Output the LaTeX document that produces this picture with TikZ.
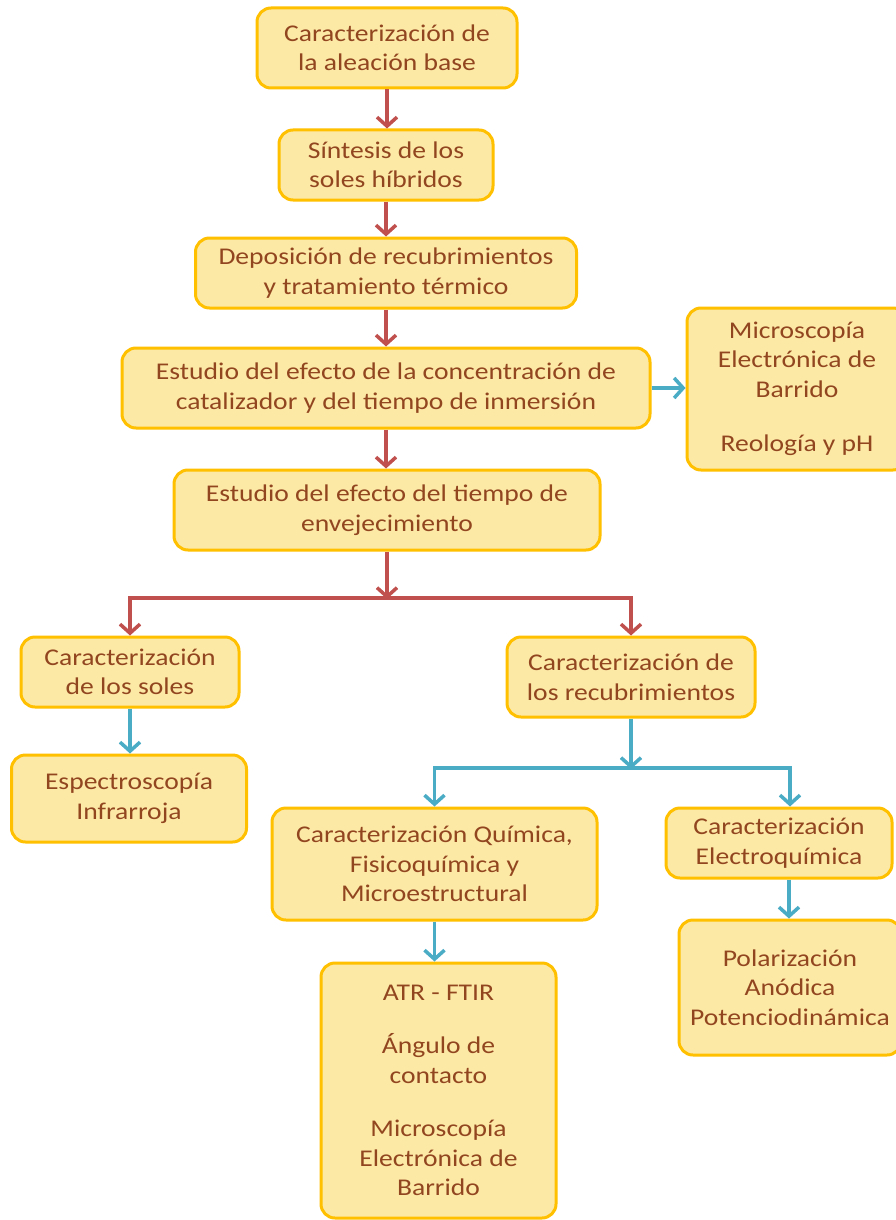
\documentclass[tikz,border=0pt]{standalone}
\usepackage{fontspec}
\setmainfont{Carlito}[FakeStretch=1.15]
\usetikzlibrary{arrows.meta}
\definecolor{boxfill}{RGB}{253,233,166}
\definecolor{boxline}{RGB}{255,192,0}
\definecolor{txt}{RGB}{146,70,32}
\definecolor{redc}{RGB}{192,80,77}
\definecolor{bluec}{RGB}{75,172,198}
\tikzset{
  box/.style={draw=boxline, fill=boxfill, line width=3pt, rounded corners=14pt,
    align=center, text=txt, inner sep=0pt,
    font=\fontsize{24}{29.5}\selectfont},
  redarr/.style={draw=redc, line width=3.5pt, -{Straight Barb[length=9pt,width=20pt]}},
  bluearr/.style={draw=bluec, line width=3.5pt, -{Straight Barb[length=9pt,width=20pt]}}
}
\begin{document}
\begin{tikzpicture}[x=1pt,y=-1pt]
\useasboundingbox (0,0) rectangle (896,1220);
\clip (0,0) rectangle (896,1220);
\fill[white] (0,0) rectangle (896,1220);

\node[box, minimum width=260, minimum height=80] (n1) at (387,48) {Caracterización de\\la aleación base};
\node[box, minimum width=214, minimum height=70] (n2) at (386,165) {Síntesis de los\\soles híbridos};
\node[box, minimum width=381, minimum height=70] (n3) at (386,273) {Deposición de recubrimientos\\y tratamiento térmico};
\node[box, minimum width=528, minimum height=80] (n4) at (386,388) {Estudio del efecto de la concentración de\\catalizador y del tiempo de inmersión};
\node[box, minimum width=220, minimum height=162] (n5) at (797,389) {Microscopía\\Electrónica de\\Barrido\\[25pt]Reología y pH};
\node[box, minimum width=426, minimum height=80] (n6) at (387,510) {Estudio del efecto del tiempo de\\envejecimiento};
\node[box, minimum width=218, minimum height=70] (n7) at (130,672) {Caracterización\\de los soles};
\node[box, minimum width=248, minimum height=80] (n8) at (631,677) {Caracterización de\\los recubrimientos};
\node[box, minimum width=235, minimum height=87] (n9) at (129,798.5) {Espectroscopía\\Infrarroja};
\node[box, minimum width=325, minimum height=112] (n10) at (434.5,864) {Caracterización Química,\\Fisicoquímica y\\Microestructural};
\node[box, minimum width=226, minimum height=70] (n11) at (779,843) {Caracterización\\Electroquímica};
\node[box, minimum width=235, minimum height=255] (n12) at (438.5,1090.5) {ATR - FTIR\\[24pt]Ángulo de\\contacto\\[24pt]Microscopía\\Electrónica de\\Barrido};
\node[box, minimum width=222, minimum height=135] (n13) at (790,987.5) {Polarización\\Anódica\\Potenciodinámica};

\coordinate (j1) at (387,598);
\coordinate (j2) at (631,768);

\draw[redarr] (n1.south) -- (n1.south |- n2.north);
\draw[redarr] (n2.south) -- (n2.south |- n3.north);
\draw[redarr] (n3.south) -- (n3.south |- n4.north);
\draw[redarr] (n4.south) -- (n4.south |- n6.north);
\draw[bluearr] (n4.east) -- (n4.east -| n5.west);

\draw[redarr] (n6.south) -- ([yshift=-1pt]j1);
\draw[redarr] (j1) -| (n7.north);
\draw[redarr] (j1) -| (n8.north);

\draw[bluearr] (n7.south) -- (n7.south |- n9.north);

\draw[bluearr] (n8.south) -- ([yshift=-1pt]j2);
\draw[bluearr] (j2) -| (n10.north);
\draw[bluearr] (j2) -| ([xshift=11pt]n11.north);

\draw[bluearr] (n10.south) -- (n10.south |- n12.north);
\draw[bluearr] ([xshift=10pt]n11.south) -- ([xshift=10pt]n11.south |- n13.north);
\end{tikzpicture}
\end{document}
